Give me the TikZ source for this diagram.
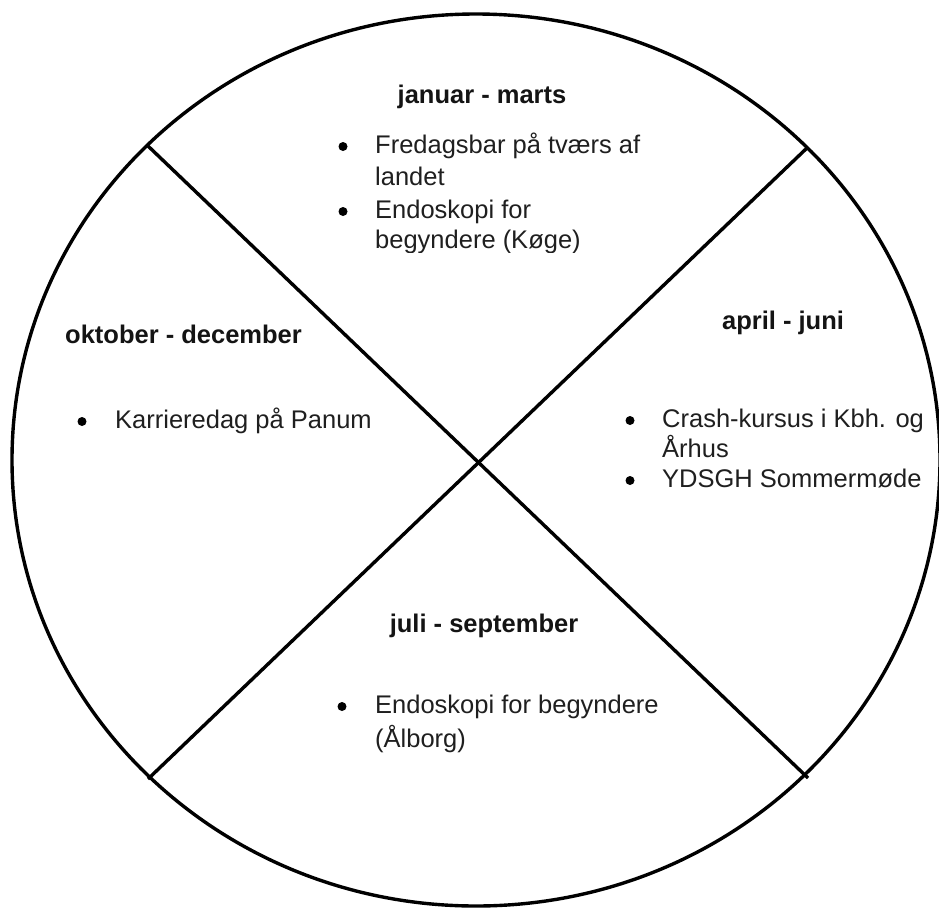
\documentclass[tikz,border=0pt]{standalone}
\usepackage{fontspec}
\setmainfont{Liberation Sans}
\begin{document}
\begin{tikzpicture}[x=1pt,y=-1pt,
  ring/.style={line width=3.4pt},
  divider/.style={line width=3.4pt},
  heading/.style={anchor=base, inner sep=0pt, text=black!92, font=\fontsize{25.5}{29}\selectfont\bfseries},
  itemtext/.style={anchor=base west, inner sep=0pt, text=black!88, font=\fontsize{25.5}{29}\selectfont},
  dot/.style={circle, fill=black, inner sep=0pt, minimum size=9pt}]
\useasboundingbox (0,0) rectangle (939,908);
\fill[white] (0,0) rectangle (939,908);
% ring
\draw[ring] (476,460) ellipse [x radius=464, y radius=446];
% dividers
\coordinate (tl) at (148,146);
\coordinate (br) at (808,778);
\coordinate (tr) at (808,147);
\coordinate (bl) at (148,779);
\draw[divider] (tl) -- (br);
\draw[divider] (tr) -- (bl);
% januar - marts
\node[heading] (h1) at (482,103) {januar - marts};
\node[dot] (b1a) at (343,146.5) {};
\node[itemtext] (t1a) at (375,153) {Fredagsbar på tværs af};
\node[itemtext] (t1b) at (375,185) {landet};
\node[dot] (b1b) at (343,211.5) {};
\node[itemtext] (t1c) at (375,218) {Endoskopi for};
\begin{scope}
\clip (360,200) rectangle (700,252);
\node[itemtext] (t1d) at (375,248) {begyndere (Køge)};
\end{scope}
% april - juni
\node[heading] (h2) at (783,329) {april - juni};
\node[dot] (b2a) at (630,420.5) {};
\node[itemtext] (t2a) at (662,427) {Crash-kursus i Kbh. og};
\node[itemtext] (t2b) at (662,457) {Århus};
\node[dot] (b2b) at (630,480.5) {};
\node[itemtext] (t2c) at (662,487) {YDSGH Sommermøde};
% oktober - december
\node[heading, anchor=base west] (h4) at (65,343) {oktober - december};
\node[dot] (b4a) at (82,421.5) {};
\node[itemtext] (t4a) at (115,428) {Karrieredag på Panum};
% juli - september
\node[heading] (h3) at (484,632) {juli - september};
\node[dot] (b3a) at (342,706.5) {};
\node[itemtext] (t3a) at (375,713) {Endoskopi for begyndere};
\node[itemtext] (t3b) at (375,747) {(Ålborg)};
\end{tikzpicture}
\end{document}
